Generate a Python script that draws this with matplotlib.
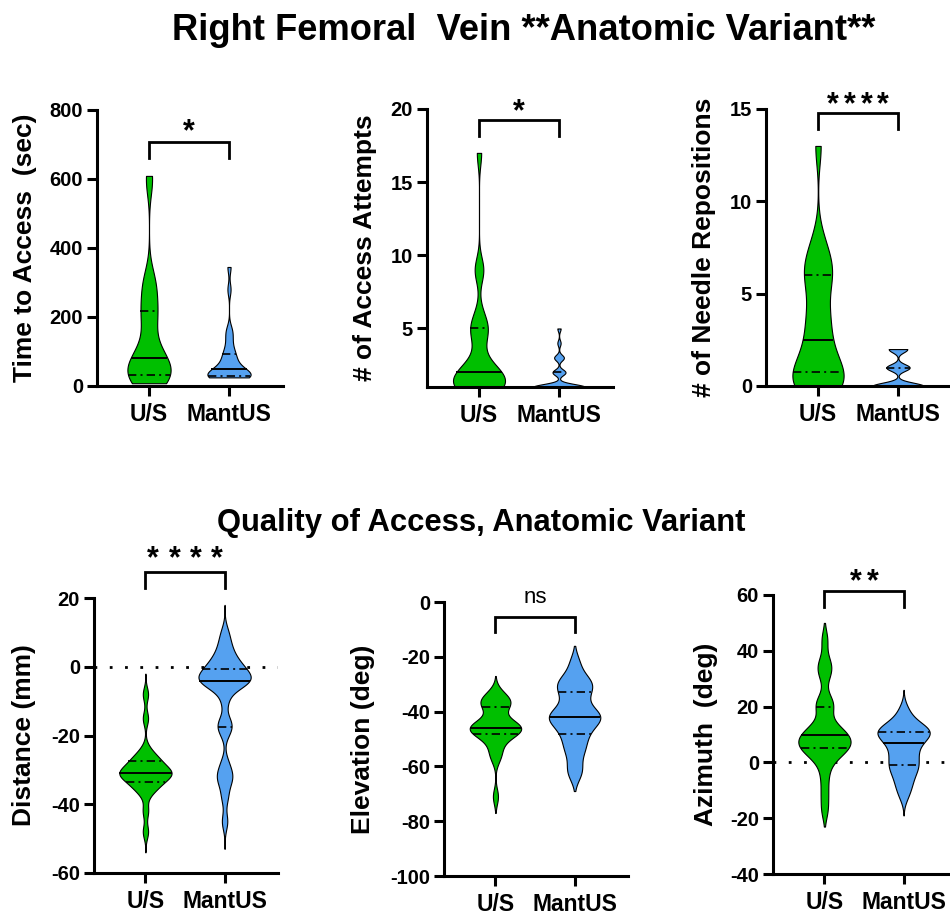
import numpy as np
import matplotlib
matplotlib.use("Agg")
import matplotlib.pyplot as plt

plt.rcParams['font.family'] = ['Liberation Sans', 'DejaVu Sans']

# ---------------- data ----------------
groups = ["U/S", "MantUS"]

time_us = [8, 12, 18, 22, 26, 28, 30, 32, 40, 50, 60, 70, 76, 78, 85, 100, 120, 150,
           190, 215, 205, 225, 270, 280, 300, 320, 590, 609]
time_mantus = [25, 26, 26, 27, 27, 28, 28, 29, 30, 32, 35, 40, 45, 51, 55, 60, 70, 80,
               90, 95, 110, 130, 150, 165, 280, 345]

attempts_us = [1] * 8 + [2] * 6 + [3, 4, 5, 5, 5, 6, 9, 9, 17]
attempts_mantus = [1] * 16 + [2] * 4 + [3] * 3 + [4, 5]

repos_us = [0] * 6 + [1] * 4 + [2, 2] + [3, 3, 4, 4, 5, 6, 6, 6, 7, 7, 8, 13]
repos_mantus = [0] * 11 + [1] * 5 + [2] * 4

dist_us = [-8, -15, -24, -26, -27, -27, -28, -29, -30, -30, -31, -31, -31, -31, -32, -32,
           -33, -34, -35, -35, -37, -42, -48]
dist_mantus = [10, 7, 5, 3, 2, 1, 0, -1, -1, -2, -3, -3, -4, -4, -4, -5, -5, -6,
               -10, -16, -17, -19, -28, -31, -32, -34, -38, -45]

elev_us = [-33, -35, -36, -36, -37, -38, -39, -43, -44, -45, -45, -46, -46, -46, -47, -47,
           -48, -48, -50, -52, -55, -57, -71]
elev_mantus = [-22, -27, -29, -30, -31, -33, -35, -38, -40, -41, -42, -42, -43, -44, -46,
               -48, -50, -53, -55, -60, -63]

azim_us = [44, 36, 34, 31, 22, 21, 20, 15, 12, 11, 10, 10, 10, 8, 7, 6, 6, 5, 5, 4, 2, 0,
           -5, -11, -17]
azim_mantus = [19, 16, 14, 13, 12, 12, 11, 11, 10, 10, 9, 8, 7, 6, 4, 3, 2, 0, -1, -2, -3,
               -5, -7, -9, -12]

ylabels = ["Time to Access  (sec)", "# of Access Attempts", "# of Needle Repositions",
           "Distance (mm)", "Elevation (deg)", "Azimuth  (deg)"]
sig_labels = ["*", "*", "****", "****", "ns", "**"]
yticks = [[0, 200, 400, 600, 800], [5, 10, 15, 20], [0, 5, 10, 15],
          [-60, -40, -20, 0, 20], [-100, -80, -60, -40, -20, 0], [-40, -20, 0, 20, 40, 60]]
ylims = [(0, 800), (1, 20), (0, 15), (-60, 20), (-100, 0), (-40, 60)]
# bracket (top, leg bottom) and significance-label centre, in data units
brackets = [(707, 661, 762), (19.25, 18.15, 20.4), (14.8, 13.9, 15.7),
            (27.6, 23.0, 33.7), (-5.4, -10.8, 1.8), (61.5, 55.8, 67.9)]

title_top = "Right Femoral  Vein **Anatomic Variant**"
title_bottom = "Quality of Access, Anatomic Variant"

# ---------------- style ----------------
W, H = 950, 915
GREEN = "#00BF00"
BLUE = "#55A1F0"
COLORS = [GREEN, BLUE]
DASHDOT = (0, (5, 2.5, 1.2, 2.5))

panels = [
    dict(rect=(97, 110, 283, 386), data=(time_us, time_mantus), bw=(45, 18), ext=(0, 0), w=0.54, lab_x=25),
    dict(rect=(427, 109, 613, 387), data=(attempts_us, attempts_mantus), bw=(0.85, 0.2), ext=(0, 0), w=0.65, lab_x=365),
    dict(rect=(766, 109, 952, 386), data=(repos_us, repos_mantus), bw=(1.0, 0.18), ext=(0, 0), w=0.64, lab_x=704),
    dict(rect=(94, 598, 278, 873), data=(dist_us, dist_mantus), bw=(2.0, 2.4), ext=(6, 8), w=0.66, lab_x=24, zero=True),
    dict(rect=(444, 602, 628, 876), data=(elev_us, elev_mantus), bw=(2.8, 3.2), ext=(6, 6), w=0.65, lab_x=363),
    dict(rect=(773, 595, 957, 874), data=(azim_us, azim_mantus), bw=(3.4, 2.8), ext=(6, 7), w=0.66, lab_x=706, zero=True),
]

fig = plt.figure(figsize=(W / 100, H / 100), dpi=100)


def kde_stats(d, bw, ext, n=400):
    d = np.asarray(d, float)
    y = np.linspace(d.min() - ext, d.max() + ext, n)
    vals = np.exp(-0.5 * ((y[:, None] - d[None, :]) / bw) ** 2).sum(1) / (len(d) * bw * np.sqrt(2 * np.pi))
    return dict(coords=y, vals=vals, mean=d.mean(), median=np.median(d),
                min=y[0], max=y[-1], quantiles=[])


for i, p in enumerate(panels):
    l, t, r, b = p["rect"]
    ax = fig.add_axes([l / W, 1 - b / H, (r - l) / W, (b - t) / H])
    ax.set_xlim(-0.65, 1.675)
    ax.set_ylim(*ylims[i])
    for s in ("top", "right"):
        ax.spines[s].set_visible(False)
    for s in ("left", "bottom"):
        ax.spines[s].set_linewidth(2.2)

    if p.get("zero"):
        ax.axhline(0, color="black", lw=2, ls=(0, (1, 4.5)), zorder=1)

    stats = [kde_stats(d, bw, e) for d, bw, e in zip(p["data"], p["bw"], p["ext"])]
    parts = ax.violin(stats, positions=[0, 1], widths=p["w"], showmeans=False,
                      showextrema=False, showmedians=False)
    for body, c in zip(parts["bodies"], COLORS):
        body.set_facecolor(c)
        body.set_edgecolor("black")
        body.set_linewidth(0.8)
        body.set_alpha(1)
        body.set_zorder(2)
    for pos, (st, d) in enumerate(zip(stats, p["data"])):
        q1, med, q3 = np.percentile(d, [25, 50, 75])
        for q, ls, lw in ((q1, DASHDOT, 1.2), (med, "-", 1.4), (q3, DASHDOT, 1.2)):
            half = np.interp(q, st["coords"], st["vals"]) / st["vals"].max() * p["w"] / 2
            ax.hlines(q, pos - half, pos + half, colors="black", linestyles=ls, lw=lw, zorder=3)

    ax.set_xticks([0, 1])
    ax.set_xticklabels(groups, fontsize=16.5, fontweight="bold")
    ax.set_yticks(yticks[i])
    ax.set_yticklabels([str(v) for v in yticks[i]], fontsize=14.5, fontweight="bold")
    ax.tick_params(axis="both", length=7, width=2.2, color="black")
    ax.tick_params(axis="x", pad=5)
    ax.tick_params(axis="y", pad=3)

    ax.set_ylabel(ylabels[i], fontsize=19, fontweight="bold", va="center")
    ax.yaxis.set_label_coords((p["lab_x"] - l) / (r - l), 0.5)

    top, leg, lab = brackets[i]
    ax.plot([0, 0, 1, 1], [leg, top, top, leg], color="black", lw=2, clip_on=False,
            solid_joinstyle="miter")
    if sig_labels[i] == "ns":
        ax.annotate("ns", (0.5, lab), xytext=(0, -4.5), textcoords="offset points",
                    ha="center", va="baseline", fontsize=16, annotation_clip=False)
    else:
        n = len(sig_labels[i])
        sp = 15.4 if n == 4 and i == 3 else 12.0
        for k, ch in enumerate(sig_labels[i]):
            dx = (k - (n - 1) / 2) * sp
            ax.annotate(ch, (0.5, lab), xytext=(dx, -0.55 * 22), textcoords="offset points",
                        ha="center", va="baseline", fontsize=22, fontweight="bold",
                        annotation_clip=False)

fig.text(524 / W, 1 - 40 / H, title_top, ha="center", va="baseline",
         fontsize=26.2, fontweight="bold")
fig.text(481 / W, 1 - 531 / H, title_bottom, ha="center", va="baseline",
         fontsize=22.3, fontweight="bold")

fig.savefig("out.png", dpi=100, facecolor="white")
